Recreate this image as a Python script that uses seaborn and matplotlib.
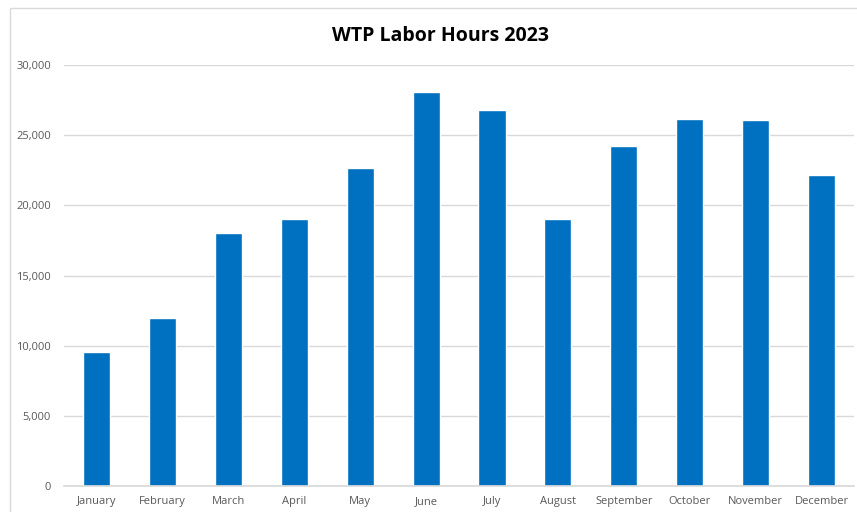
import numpy as np
import pandas as pd
import matplotlib
matplotlib.use("Agg")
import matplotlib.pyplot as plt
import matplotlib.ticker as mticker
from matplotlib.patches import Rectangle
import seaborn as sns

months = ["January", "February", "March", "April", "May", "June",
          "July", "August", "September", "October", "November", "December"]
hours = [9550, 11950, 18000, 19020, 22650, 28100,
         26800, 19020, 24250, 26180, 26100, 22150]
title = "WTP Labor Hours 2023"

sns.set_theme(style="white")
plt.rcParams['font.family'] = ['Open Sans', 'DejaVu Sans']

df = pd.DataFrame({"month": months, "hours": hours})

fig = plt.figure(figsize=(8.57, 5.12), dpi=100)
ax = fig.add_axes([0.0743, 0.0508, 0.9227, 0.8222])

sns.barplot(data=df, x="month", y="hours", color="#0070C0", saturation=1,
            width=0.41, ax=ax)

ax.set_ylim(0, 30000)
ax.set_xlim(-0.5, len(months) - 0.5)
ax.yaxis.set_major_locator(mticker.MultipleLocator(5000))
ax.yaxis.set_major_formatter(mticker.FuncFormatter(lambda v, p: f"{int(v):,}"))
ax.grid(axis="y", color="#D9D9D9", linewidth=1)
ax.set_axisbelow(True)
for s in ["top", "right", "left"]:
    ax.spines[s].set_visible(False)
ax.spines["bottom"].set_color("#D9D9D9")
ax.tick_params(axis="both", length=0, labelsize=8, labelcolor="#595959")
ax.tick_params(axis="y", pad=9)
ax.tick_params(axis="x", pad=7)
ax.set_xlabel("")
ax.set_ylabel("")

fig.text(0.514, 0.93, title, ha="center", va="center", fontsize=14,
         fontweight="bold", color="#000000")

# chart border (cropped at right and bottom)
fig.patches.append(Rectangle((10 / 857, -0.05), 1.2, 1 - 8 / 512 + 0.05,
                             transform=fig.transFigure, fill=False,
                             edgecolor="#D9D9D9", linewidth=1))

fig.savefig("out.png", dpi=100)
